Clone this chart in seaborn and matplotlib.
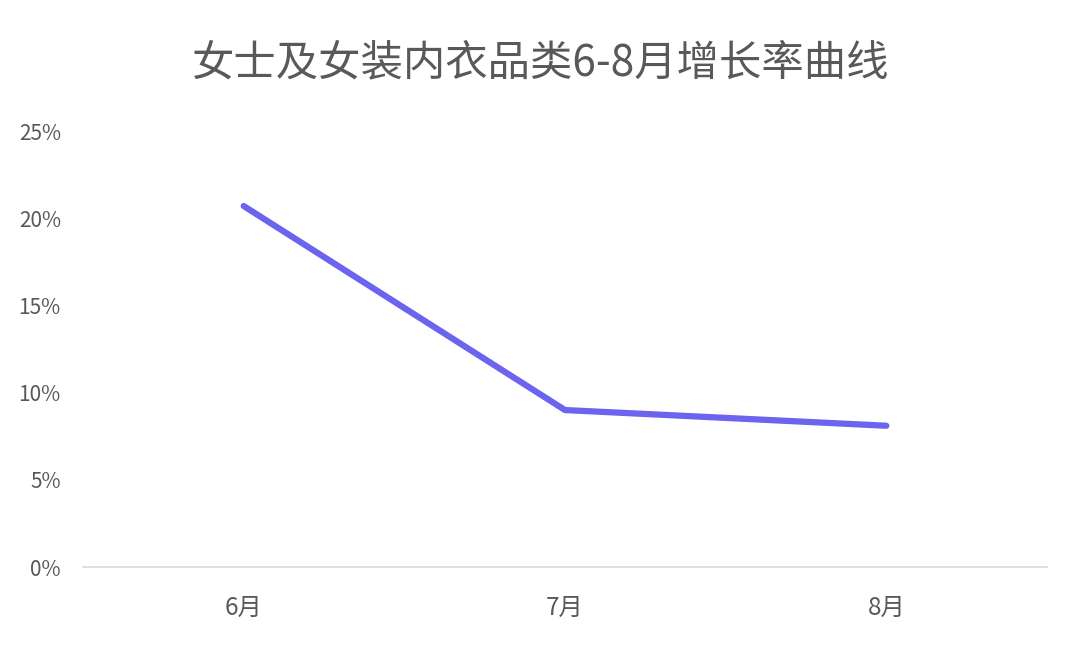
import matplotlib
matplotlib.use('Agg')
import matplotlib.pyplot as plt
import seaborn as sns
import pandas as pd
from matplotlib.ticker import PercentFormatter

# data
months = ['6月', '7月', '8月']
growth = [0.207, 0.090, 0.081]

sns.set_theme(style='white')
plt.rcParams['font.family'] = ['Noto Sans CJK SC', 'DejaVu Sans']

df = pd.DataFrame({'month': months, 'growth': growth})

fig = plt.figure(figsize=(10.8, 6.48), dpi=100)
ax = fig.add_axes([0.0769, 0.125, 0.8925, 0.6728])

sns.lineplot(data=df, x='month', y='growth', ax=ax, color='#6C63EE',
             linewidth=4.5, solid_capstyle='round', sort=False)

ax.set_xlim(-0.5, 2.5)
ax.set_ylim(0, 0.25)
ax.set_yticks([0, 0.05, 0.10, 0.15, 0.20, 0.25])
ax.yaxis.set_major_formatter(PercentFormatter(1.0, decimals=0))
ax.set_xlabel('')
ax.set_ylabel('')

for s in ['top', 'right', 'left']:
    ax.spines[s].set_visible(False)
ax.spines['bottom'].set_color('#D9D9D9')
ax.spines['bottom'].set_linewidth(1.2)
ax.tick_params(axis='both', length=0, colors='#595959')
ax.tick_params(axis='y', pad=16, labelsize=15)
ax.tick_params(axis='x', pad=20, labelsize=17.5)

fig.text(0.5, 0.903, '女士及女装内衣品类6-8月增长率曲线', ha='center', va='center',
         fontsize=30.5, color='#595959')

fig.savefig('out.png', dpi=100, facecolor='white')
